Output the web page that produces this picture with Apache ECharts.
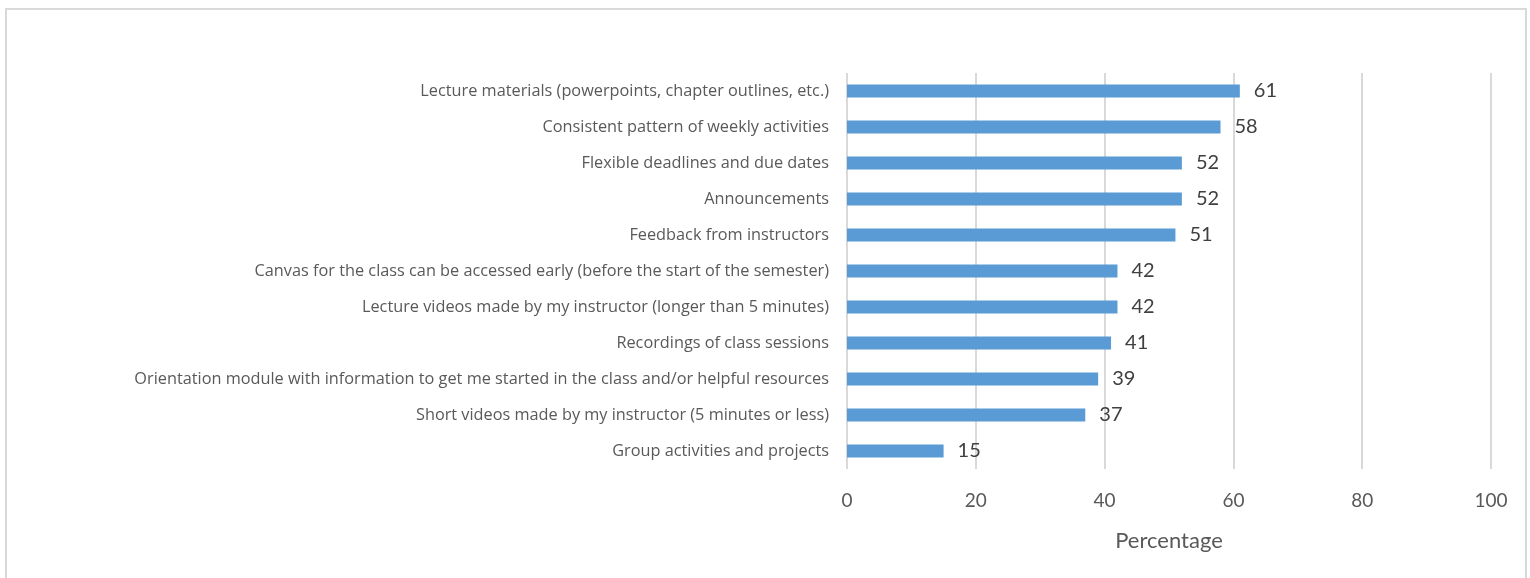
<!DOCTYPE html>
<html>
<head>
<meta charset="utf-8">
<script src="https://cdn.jsdelivr.net/npm/echarts@6/dist/echarts.min.js"></script>
<style>
  html, body { margin: 0; padding: 0; background: #fff; }
  #chart { width: 1530px; height: 578px; }
</style>
</head>
<body>
<div id="chart"></div>
<script>
// categories listed bottom to top (category axis draws first item at the bottom)
const categories = [
  'Group activities and projects',
  'Short videos made by my instructor (5 minutes or less)',
  'Orientation module with information to get me started in the class and/or helpful resources',
  'Recordings of class sessions',
  'Lecture videos made by my instructor (longer than 5 minutes)',
  'Canvas for the class can be accessed early (before the start of the semester)',
  'Feedback from instructors',
  'Announcements',
  'Flexible deadlines and due dates',
  'Consistent pattern of weekly activities',
  'Lecture materials (powerpoints, chapter outlines, etc.)'
]
const percentages = [15, 37, 39, 41, 42, 42, 51, 52, 52, 58, 61]
const xTicks = [0, 20, 40, 60, 80, 100]

const chart = echarts.init(document.getElementById('chart'))
const font = 'Lato, "Open Sans", sans-serif'
const catFont = '"Open Sans", sans-serif'

const option = {
  animation: false,
  graphic: [{
    type: 'rect',
    shape: { x: 6, y: 9, width: 1520, height: 600 },
    style: { fill: 'none', stroke: '#d9d9d9', lineWidth: 2 }
  }],
  grid: {
    left: 847,
    right: 1530 - 1491,
    top: 73,
    bottom: 578 - 469,
    containLabel: false
  },
  xAxis: {
    type: 'value',
    min: xTicks[0],
    max: xTicks[xTicks.length - 1],
    interval: 20,
    name: 'Percentage',
    nameLocation: 'middle',
    nameGap: 61,
    nameTextStyle: { color: '#595959', fontSize: 22, fontFamily: font },
    axisLine: { show: false },
    axisTick: { show: false },
    axisLabel: { color: '#595959', fontSize: 19, fontFamily: font, margin: 22 },
    splitLine: { show: true, lineStyle: { color: '#d9d9d9', width: 2 } }
  },
  yAxis: {
    type: 'category',
    data: categories,
    axisLine: { show: false },
    axisTick: { show: false },
    axisLabel: { color: '#595959', fontSize: 16.3, fontFamily: catFont, margin: 18 }
  },
  series: [{
    type: 'bar',
    data: percentages,
    barWidth: 13,
    itemStyle: { color: '#5b9bd5' },
    label: {
      show: true,
      position: 'right',
      distance: 14,
      color: '#404040',
      fontSize: 20,
      fontFamily: font
    }
  }]
}

chart.setOption(option)
</script>
</body>
</html>
